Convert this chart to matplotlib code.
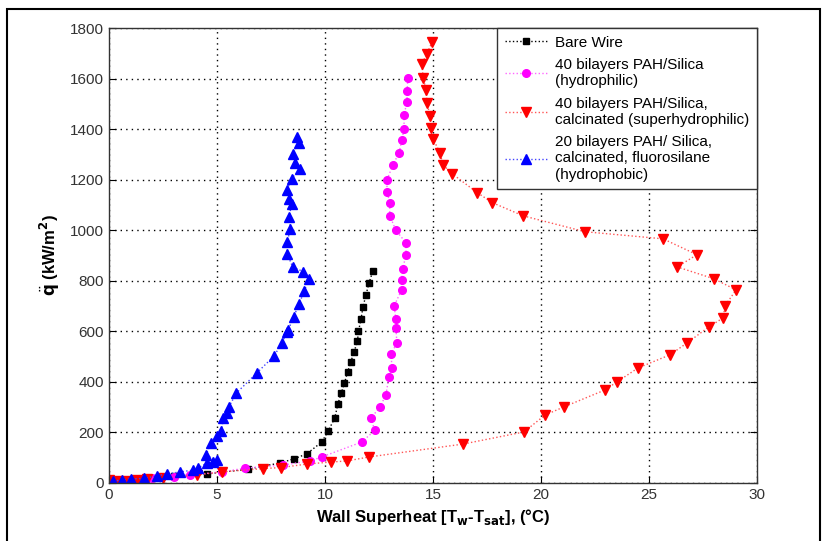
"""Pool boiling curves: heat flux vs wall superheat for coated and bare wires."""

import matplotlib
matplotlib.use("Agg")
import matplotlib.pyplot as plt
from matplotlib.patches import Rectangle

plt.rcParams["font.family"] = ["Liberation Sans", "DejaVu Sans"]

# Bare wire
bare_dT = [0.3, 1.0, 2.0, 3.0, 4.55, 6.45, 7.9, 8.55, 9.15, 9.85, 10.15, 10.45,
           10.6, 10.75, 10.9, 11.05, 11.2, 11.35, 11.5, 11.55, 11.67, 11.76,
           11.9, 12.04, 12.22]
bare_q = [5, 10, 18, 26, 36, 55, 79, 95, 115, 162, 206, 257,
          313, 355, 395, 440, 480, 520, 560, 600, 650, 697,
          745, 792, 840]

# 40 bilayers PAH/Silica (hydrophilic)
philic_dT = [0.3, 1.0, 2.0, 3.0, 3.75, 5.25, 6.3, 8.05, 9.3, 9.85, 11.7, 12.3,
             12.13, 12.55, 12.82, 12.96, 13.1, 13.06, 13.33, 13.28, 13.28, 13.2,
             13.55, 13.55, 13.6, 13.75, 13.75, 13.28, 13.0, 13.0, 12.87, 12.87,
             13.15, 13.43, 13.56, 13.66, 13.66, 13.8, 13.8, 13.84]
philic_q = [5, 10, 18, 24, 32, 44, 59, 71, 87, 103, 162, 208,
            257, 301, 349, 420, 455, 511, 554, 614, 650, 701,
            764, 804, 848, 903, 950, 1000, 1057, 1109, 1152, 1200,
            1259, 1307, 1358, 1402, 1457, 1509, 1549, 1604]

# 40 bilayers PAH/Silica, calcinated (superhydrophilic)
super_dT = [0.0, 0.37, 0.8, 1.3, 1.76, 2.5, 4.07, 5.23, 7.13, 7.95, 9.17, 10.28,
            11.0, 12.04, 16.39, 19.21, 20.19, 21.06, 22.96, 23.52, 24.49, 25.97,
            26.76, 27.78, 28.43, 28.52, 29.03, 28.0, 26.3, 27.22, 25.65, 22.04,
            19.17, 17.75, 17.04, 15.88, 15.46, 15.32, 15.0, 14.9, 14.86, 14.72,
            14.68, 14.54, 14.49, 14.72, 14.95]
super_q = [12, 8, 8, 12, 16, 20, 32, 44, 57, 61, 75, 83,
           87, 103, 154, 202, 269, 301, 368, 400, 455, 507,
           554, 618, 653, 701, 764, 808, 855, 903, 966, 994,
           1057, 1109, 1149, 1224, 1259, 1307, 1362, 1406, 1453, 1505,
           1556, 1604, 1659, 1699, 1743]

# 20 bilayers PAH/Silica, calcinated, fluorosilane (hydrophobic)
phobic_dT = [0.2, 0.6, 1.0, 1.6, 2.2, 2.7, 3.3, 3.9, 4.1, 4.55, 4.8, 5.0,
             4.5, 4.7, 5.0, 5.2, 5.3, 5.45, 5.55, 5.9, 6.85, 7.65, 8.0, 8.25,
             8.3, 8.55, 8.8, 9.05, 9.25, 9.0, 8.5, 8.25, 8.25, 8.4, 8.35, 8.45,
             8.35, 8.25, 8.45, 8.85, 8.6, 8.5, 8.8, 8.7]
phobic_q = [8, 12, 16, 18, 28, 36, 44, 51, 59, 79, 82, 90,
            110, 158, 186, 206, 257, 277, 301, 356, 436, 503, 554, 598,
            606, 657, 709, 760, 808, 836, 855, 907, 954, 1006, 1053, 1105,
            1125, 1160, 1204, 1243, 1267, 1303, 1347, 1370]

labels = [
    "Bare Wire",
    "40 bilayers PAH/Silica\n(hydrophilic)",
    "40 bilayers PAH/Silica,\ncalcinated (superhydrophilic)",
    "20 bilayers PAH/ Silica,\ncalcinated, fluorosilane\n(hydrophobic)",
]

fig = plt.figure(figsize=(8.27, 5.41), dpi=100)
ax = fig.add_axes([109 / 827, 1 - 483 / 541, (757 - 109) / 827, (483 - 28) / 541])

ax.plot(bare_dT, bare_q, ls=":", lw=1, color="black", marker="s", ms=5,
        label=labels[0])
ax.plot(philic_dT, philic_q, ls=":", lw=1, color="#ff66ff", marker="o", ms=5.5,
        mfc="#ff00ff", mec="#ff00ff", label=labels[1])
ax.plot(super_dT, super_q, ls=":", lw=1, color="#ff5555", marker="v", ms=7,
        mfc="#ff0000", mec="#ff0000", label=labels[2])
ax.plot(phobic_dT, phobic_q, ls=":", lw=1, color="#4444ff", marker="^", ms=7,
        mfc="#0000ff", mec="#0000ff", label=labels[3])

ax.set_xlim(0, 30)
ax.set_ylim(0, 1800)
ax.set_xticks(range(0, 31, 5))
ax.set_yticks(range(0, 1801, 200))
ax.grid(True, ls=(0, (1, 3)), color="black", lw=1.0)
ax.tick_params(direction="in", length=5, labelsize=11, labelcolor="#333333",
               top=False, right=True)
for s in ax.spines.values():
    s.set_color("#333333")
    s.set_linewidth(1.0)

ax.set_xlabel("Wall Superheat [T$_\\mathbf{w}$-T$_\\mathbf{sat}$], (\u00b0C)",
              fontsize=12, fontweight="bold", labelpad=4)
ax.set_ylabel("$\\ddot{\\mathbf{q}}$ (kW/m$^\\mathbf{2}$)", fontsize=12,
              fontweight="bold", labelpad=6)

leg = ax.legend(loc="upper right", borderaxespad=0, fontsize=11, numpoints=1,
                handlelength=2.8, fancybox=False, framealpha=1,
                edgecolor="#333333", labelspacing=0.55, handletextpad=0.5,
                borderpad=0.5)
leg.get_frame().set_linewidth(1.0)

fig.patches.append(Rectangle((7 / 827, -0.05), (820 - 7) / 827, 1.05 - 9 / 541,
                             transform=fig.transFigure, fill=False,
                             edgecolor="black", lw=1.5, clip_on=False))

fig.savefig("out.png", dpi=100)
